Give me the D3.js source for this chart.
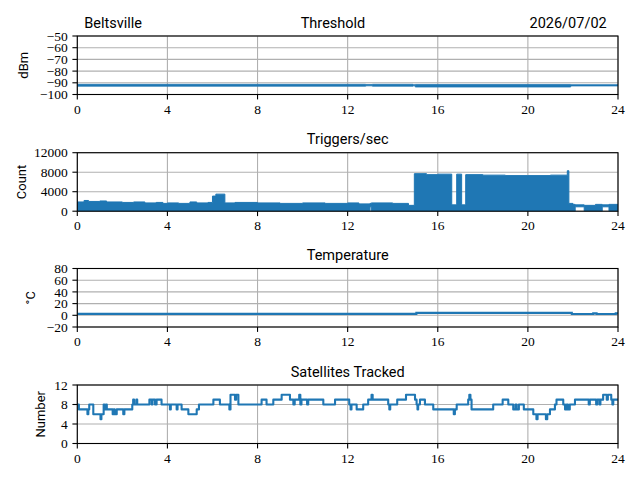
<!DOCTYPE html>
<html>
<head>
<meta charset="utf-8">
<script src="https://cdn.jsdelivr.net/npm/d3@7"></script>
<style>
  body { margin: 0; background: #fff; }
  svg { display: block; }
  .tick-label { font-family: "Liberation Serif", serif; font-size: 13.5px; fill: #000; }
  .ttl { font-family: Roboto, sans-serif; font-size: 14.5px; fill: #000; }
  .ylab { font-family: Roboto, sans-serif; font-size: 13px; fill: #000; }
</style>
</head>
<body>
<div id="chart"></div>
<script>
// ---- data ----
var hourTicks = [0, 4, 8, 12, 16, 20, 24];

// threshold envelope (dBm)
var thrHours = [0, 12.8, 13.1, 14.9, 15.0, 21.9, 24];
var thrHigh  = [-91.3, -91.5, -91.3, -91.6, -91.4, -91.6, -91.6];
var thrLow   = [-92.9, -92.6, -92.9, -92.6, -93.6, -92.7, -92.7];
var thrTicks = [-100, -90, -80, -70, -60, -50];

// triggers/sec envelope (count)
var trigHours = [0, 0.3, 0.5, 1.0, 1.3, 2.0, 2.5, 3.0, 3.5, 3.8, 4.0, 4.5, 5.0, 5.3, 5.8, 6.0, 6.15, 6.55, 7.0, 8.0, 9.0, 10.0, 11.0, 12.0, 12.5, 12.99, 13.05, 14.0, 14.7, 14.96, 15.5, 16.0, 16.62, 16.84, 17.06, 17.24, 18.0, 19.0, 20.0, 21.0, 21.75, 21.82, 22.0, 22.1, 22.5, 23.0, 23.3, 23.6, 24];
var trigHigh  = [1900, 2200, 2000, 2100, 1900, 1800, 1900, 1700, 1800, 1600, 1700, 1600, 1900, 1700, 1800, 3100, 3500, 1700, 1800, 1700, 1600, 1700, 1600, 1700, 1500, 1600, 1700, 1600, 1200, 7700, 7500, 7600, 1300, 7600, 1300, 7500, 7400, 7300, 7300, 7400, 8300, 1600, 1400, 1300, 1200, 1400, 1300, 1400, 1400];
var trigLow   = [0, 0, 0, 0, 0, 0, 0, 0, 0, 0, 0, 0, 0, 0, 0, 0, 0, 0, 0, 0, 0, 0, 0, 0, 0, 900, 0, 0, 0, 0, 0, 0, 0, 0, 0, 0, 0, 0, 0, 0, 0, 0, 0, 900, 0, 0, 900, 0, 0];
var trigTicks = [0, 4000, 8000, 12000];

// temperature (deg C)
var tempHours = [0, 15.05, 21.95, 22.9, 23.05, 23.9, 24];
var tempVals  = [2.5, 4.2, 2.3, 3.3, 2.3, 3.3, 3.3];
var tempTicks = [-20, 0, 20, 40, 60, 80];

// satellites tracked
var satHours = [0, 0.07, 0.45, 0.49, 0.53, 0.71, 1.03, 1.07, 1.17, 1.21, 1.27, 1.31, 1.57, 1.62, 1.66, 1.75, 2.04, 2.09, 2.44, 2.48, 2.52, 2.62, 2.66, 3.2, 3.3, 3.34, 3.45, 3.52, 3.74, 4.11, 4.15, 4.41, 4.45, 4.63, 4.93, 5.3, 5.4, 6.04, 6.33, 6.75, 6.8, 7.0, 7.05, 7.15, 8.18, 8.4, 8.7, 9.07, 9.44, 9.59, 9.65, 9.85, 9.9, 9.95, 10.2, 10.25, 10.92, 11.44, 12.07, 12.13, 12.17, 12.4, 12.69, 12.91, 13.06, 13.11, 13.8, 13.85, 13.89, 14.2, 14.59, 14.99, 15.06, 15.1, 15.13, 15.21, 15.43, 15.8, 16.71, 16.76, 16.84, 17.35, 17.4, 17.45, 17.5, 18.46, 18.88, 19.13, 19.35, 19.45, 19.5, 19.6, 19.82, 20.24, 20.38, 20.43, 20.8, 20.86, 20.98, 21.2, 21.27, 21.57, 21.65, 21.72, 21.78, 21.86, 22.09, 22.7, 22.75, 23.03, 23.08, 23.18, 23.22, 23.34, 23.5, 23.55, 23.7, 23.75, 23.79, 24];
var satVals  = [8, 7, 6, 7, 8, 6, 5, 6, 8, 7, 8, 7, 6, 7, 6, 7, 6, 7, 8, 9, 8, 9, 8, 9, 8, 9, 8, 9, 8, 7, 8, 7, 8, 7, 6, 7, 8, 9, 8, 7, 10, 9, 10, 8, 9, 8, 9, 10, 9, 8, 9, 10, 8, 9, 8, 9, 8, 9, 8, 7, 8, 7, 8, 9, 10, 9, 8, 7, 8, 9, 10, 9, 8, 7, 8, 9, 8, 7, 6, 7, 8, 9, 10, 9, 7, 8, 9, 8, 7, 8, 7, 8, 7, 6, 5, 6, 5, 6, 7, 8, 9, 8, 7, 8, 7, 8, 9, 8, 9, 8, 9, 8, 9, 10, 9, 10, 9, 8, 9, 9];
var satTicks = [0, 4, 8, 12];

// ---- layout ----
var width = 640, height = 480;
var left = 77.3, right = 618;
var panelH = 58.5;
var lineColor = "#1f77b4";
var gridColor = "#b0b0b0";

var panels = [
    {top: 36,    domain: [-100, -50], ticks: thrTicks,  title: "Threshold",       titleX: 333, ylabel: "dBm",    ylabelX: 28},
    {top: 152.7, domain: [0, 12000],  ticks: trigTicks, title: "Triggers/sec",    titleX: 347.7, ylabel: "Count", ylabelX: 26},
    {top: 268.5, domain: [-20, 80],   ticks: tempTicks, title: "Temperature",     titleX: 347.7, ylabel: "\u00b0C", ylabelX: 35},
    {top: 385,   domain: [0, 12],     ticks: satTicks,  title: "Satellites Tracked", titleX: 347.7, ylabel: "Number", ylabelX: 45}
];

var svg = d3.select("#chart").append("svg")
    .attr("width", width)
    .attr("height", height);

var x = d3.scaleLinear().domain([0, 24]).range([left, right]);

function fmt(v) { return String(v).replace("-", "\u2212"); }

panels.forEach(function(p, i) {
    var y = d3.scaleLinear().domain(p.domain).range([p.top + panelH, p.top]);
    p.y = y;
    var g = svg.append("g");

    g.append("clipPath").attr("id", "clip" + i)
        .append("rect")
        .attr("x", left).attr("y", p.top)
        .attr("width", right - left).attr("height", panelH);

    // grid
    g.selectAll(".vg").data(hourTicks).enter().append("line")
        .attr("x1", function(d){ return x(d); }).attr("x2", function(d){ return x(d); })
        .attr("y1", p.top).attr("y2", p.top + panelH)
        .attr("stroke", gridColor).attr("stroke-width", 1.1);
    g.selectAll(".hg").data(p.ticks).enter().append("line")
        .attr("x1", left).attr("x2", right)
        .attr("y1", function(d){ return y(d); }).attr("y2", function(d){ return y(d); })
        .attr("stroke", gridColor).attr("stroke-width", 1.1);

    p.plot = g.append("g").attr("clip-path", "url(#clip" + i + ")");

    // spines
    g.append("rect")
        .attr("x", left).attr("y", p.top)
        .attr("width", right - left).attr("height", panelH)
        .attr("fill", "none").attr("stroke", "#000").attr("stroke-width", 1.1);

    // x ticks
    g.selectAll(".xt").data(hourTicks).enter().append("line")
        .attr("x1", function(d){ return x(d); }).attr("x2", function(d){ return x(d); })
        .attr("y1", p.top + panelH).attr("y2", p.top + panelH + 4.9)
        .attr("stroke", "#000").attr("stroke-width", 1.1);
    g.selectAll(".xl").data(hourTicks).enter().append("text")
        .attr("class", "tick-label")
        .attr("x", function(d){ return x(d); })
        .attr("y", p.top + panelH + 19)
        .attr("text-anchor", "middle")
        .text(function(d){ return d; });

    // y ticks
    g.selectAll(".yt").data(p.ticks).enter().append("line")
        .attr("x1", left - 4.9).attr("x2", left)
        .attr("y1", function(d){ return y(d); }).attr("y2", function(d){ return y(d); })
        .attr("stroke", "#000").attr("stroke-width", 1.1);
    g.selectAll(".yl").data(p.ticks).enter().append("text")
        .attr("class", "tick-label")
        .attr("x", left - 9.5)
        .attr("y", function(d){ return y(d) + 4.6; })
        .attr("text-anchor", "end")
        .text(fmt);

    // titles
    g.append("text").attr("class", "ttl")
        .attr("x", p.titleX).attr("y", p.top - 8.5)
        .attr("text-anchor", "middle")
        .text(p.title);

    g.append("text").attr("class", "ylab")
        .attr("transform", "translate(" + p.ylabelX + "," + (p.top + panelH / 2) + ") rotate(-90)")
        .attr("text-anchor", "middle")
        .text(p.ylabel);
});

svg.append("text").attr("class", "ttl")
    .attr("x", 84.3).attr("y", 27.5)
    .text("Beltsville");
svg.append("text").attr("class", "ttl")
    .attr("x", 606.7).attr("y", 27.5)
    .attr("text-anchor", "end")
    .text("2026/07/02");

// threshold band
var thrData = thrHours.map(function(h, i){ return {h: h, hi: thrHigh[i], lo: thrLow[i]}; });
panels[0].plot.append("path")
    .datum(thrData)
    .attr("fill", lineColor)
    .attr("stroke", lineColor).attr("stroke-width", 0.8)
    .attr("d", d3.area().curve(d3.curveStepAfter)
        .x(function(d){ return x(d.h); })
        .y0(function(d){ return panels[0].y(d.lo); })
        .y1(function(d){ return panels[0].y(d.hi); }));

// triggers envelope
var trigData = trigHours.map(function(h, i){ return {h: h, hi: trigHigh[i], lo: trigLow[i]}; });
panels[1].plot.append("path")
    .datum(trigData)
    .attr("fill", lineColor)
    .attr("stroke", lineColor).attr("stroke-width", 1)
    .attr("d", d3.area().curve(d3.curveStepAfter)
        .x(function(d){ return x(d.h); })
        .y0(function(d){ return panels[1].y(d.lo); })
        .y1(function(d){ return panels[1].y(d.hi); }));

// temperature
var tempData = tempHours.map(function(h, i){ return {h: h, v: tempVals[i]}; });
panels[2].plot.append("path")
    .datum(tempData)
    .attr("fill", "none")
    .attr("stroke", lineColor).attr("stroke-width", 2.1)
    .attr("d", d3.line().curve(d3.curveStepAfter)
        .x(function(d){ return x(d.h); })
        .y(function(d){ return panels[2].y(d.v); }));

// satellites
var satData = satHours.map(function(h, i){ return {h: h, v: satVals[i]}; });
panels[3].plot.append("path")
    .datum(satData)
    .attr("fill", "none")
    .attr("stroke", lineColor).attr("stroke-width", 2.1)
    .attr("stroke-linejoin", "round")
    .attr("d", d3.line().curve(d3.curveStepAfter)
        .x(function(d){ return x(d.h); })
        .y(function(d){ return panels[3].y(d.v); }));
</script>
</body>
</html>
